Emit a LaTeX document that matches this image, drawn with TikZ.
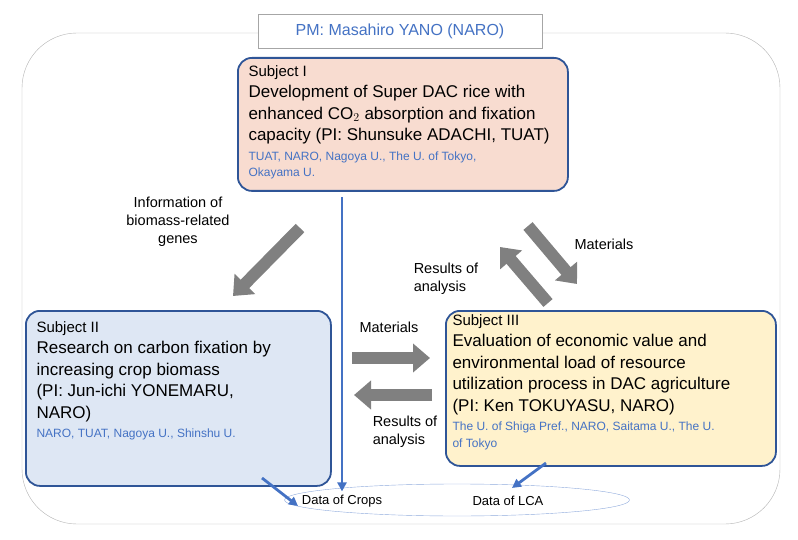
\documentclass[tikz,border=0pt]{standalone}
\usepackage{fontspec}
\setmainfont{Liberation Sans}
\usetikzlibrary{arrows.meta, positioning, shapes.geometric}
\definecolor{frameblue}{HTML}{2F5597}
\definecolor{textblue}{HTML}{4472C4}
\definecolor{peach}{HTML}{F8DCD0}
\definecolor{lightblue}{HTML}{DEE7F4}
\definecolor{lightyellow}{HTML}{FFF2CC}
\begin{document}
\begin{tikzpicture}[
    x=1pt, y=-1pt,
    subject/.style={rectangle, rounded corners=14pt, draw=frameblue, line width=1.8pt, anchor=north west, inner sep=0pt},
    body/.style={anchor=north west, align=left, font=\fontsize{17}{21.5}\selectfont},
    label/.style={font=\fontsize{14.5}{18}\selectfont, align=left},
    bigarrow/.style={-{Triangle[length=17pt,width=28pt]}, line width=12pt, draw=gray},
    bluearrow/.style={-{Triangle[length=9pt,width=9pt]}, line width=2.8pt, draw=textblue}
]
\useasboundingbox (0,0) rectangle (798,540);
% Frame
\draw[gray!60, rounded corners=55pt] (22,33) rectangle (780,524);
\node[draw=gray!70, fill=white, minimum width=284pt, minimum height=34pt, font=\fontsize{16}{19}\selectfont, text=textblue] (pm) at (400,31) {PM: Masahiro YANO (NARO)};

% Subjects
\node[subject, fill=peach, minimum width=330pt, minimum height=133pt] (s1) at (237,57) {};
\node[body] (s1t) at (245,62)
  {\fontsize{15}{18}\selectfont Subject I\\Development of Super DAC rice with\\enhanced CO$_2$ absorption and fixation\\capacity (PI: Shunsuke ADACHI, TUAT)\\[-2pt]
  {\fontsize{12}{15}\selectfont\color{textblue}TUAT, NARO, Nagoya U., The U. of Tokyo,}\\[-5pt]
  {\fontsize{12}{15}\selectfont\color{textblue}Okayama U.}};

\node[subject, fill=lightblue, minimum width=305pt, minimum height=175pt] (s2) at (25,310) {};
\node[body] (s2t) at (33,318)
  {\fontsize{15}{18}\selectfont Subject II\\Research on carbon fixation by\\increasing crop biomass\\(PI: Jun-ichi YONEMARU,\\NARO)\\[-2pt]
  {\fontsize{12}{15}\selectfont\color{textblue}NARO, TUAT, Nagoya U., Shinshu U.}};

\node[subject, fill=lightyellow, minimum width=330pt, minimum height=155pt] (s3) at (445,310) {};
\node[body] (s3t) at (449,311)
  {\fontsize{15}{18}\selectfont Subject III\\Evaluation of economic value and\\environmental load of resource\\utilization process in DAC agriculture\\(PI: Ken TOKUYASU, NARO)\\[-2pt]
  {\fontsize{12}{15}\selectfont\color{textblue}The U. of Shiga Pref., NARO, Saitama U., The U.}\\[-5pt]
  {\fontsize{12}{15}\selectfont\color{textblue}of Tokyo}};

% Data ellipse
\node[draw=textblue!60, ellipse, minimum width=345pt, minimum height=32pt] (data) at (457,500) {};
\node[font=\fontsize{13}{15}\selectfont] (crops) at (342,501) {Data of Crops};
\node[font=\fontsize{13}{15}\selectfont] (lca) at (508,501) {Data of LCA};

% Gray arrows
\coordinate (a1s) at (300,228); \coordinate (a1e) at (233,296);
\draw[bigarrow] (a1s) -- (a1e);
\coordinate (a2s) at (528,226); \coordinate (a2e) at (577,284);
\draw[bigarrow] (a2s) -- (a2e);
\coordinate (a3s) at (548,303); \coordinate (a3e) at (500,247);
\draw[bigarrow] (a3s) -- (a3e);
\coordinate (a4s) at (352,358); \coordinate (a4e) at (430,358);
\draw[bigarrow] (a4s) -- (a4e);
\coordinate (a5s) at (432,395); \coordinate (a5e) at (354,395);
\draw[bigarrow] (a5s) -- (a5e);

% Labels
\node[label, align=center] (info) at (178,222) {Information of\\biomass-related\\genes};
\node[label] (mat1) at (604,244) {Materials};
\node[label] (res1) at (446,279) {Results of\\analysis};
\node[label] (mat2) at (389,327) {Materials};
\node[label] (res2) at (405,432) {Results of\\analysis};

% Blue arrows
\coordinate (b1s) at (342,197);
\draw[bluearrow] (b1s) -- (crops.north);
\coordinate (b2s) at (262,478); \coordinate (b2e) at (298,506);
\draw[bluearrow] (b2s) -- (b2e);
\coordinate (b3s) at (546,463); \coordinate (b3e) at (512,488);
\draw[bluearrow] (b3s) -- (b3e);
\end{tikzpicture}
\end{document}
